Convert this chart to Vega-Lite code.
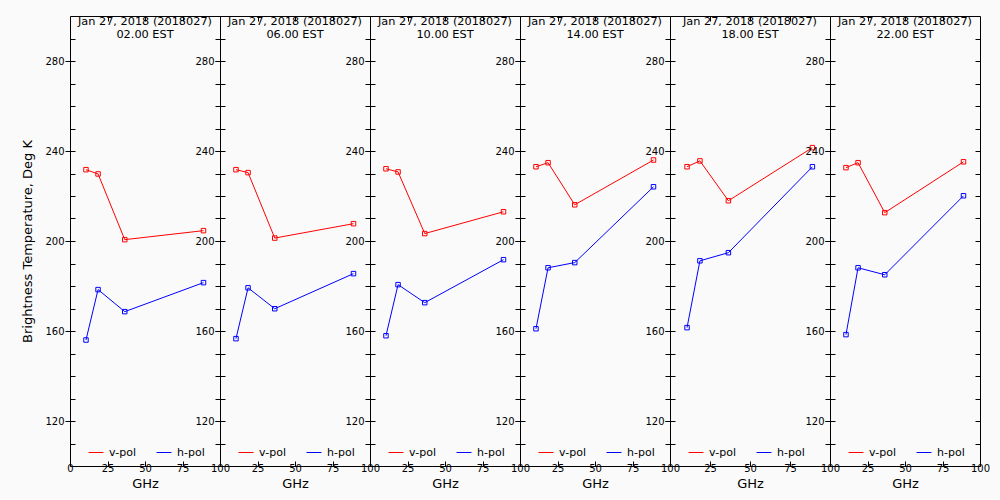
{
  "$schema": "https://vega.github.io/schema/vega-lite/v6.json",
  "background": "#fafafa",
  "padding": {"left": 21, "top": 15, "right": 11, "bottom": 8},
  "data": {"values": [
    {"time": "02.00", "pol": "v-pol", "ghz": 10.65, "tb": 231.7},
    {"time": "02.00", "pol": "v-pol", "ghz": 18.7, "tb": 229.8},
    {"time": "02.00", "pol": "v-pol", "ghz": 36.5, "tb": 200.6},
    {"time": "02.00", "pol": "v-pol", "ghz": 89.0, "tb": 204.6},
    {"time": "02.00", "pol": "h-pol", "ghz": 10.65, "tb": 156.0},
    {"time": "02.00", "pol": "h-pol", "ghz": 18.7, "tb": 178.4},
    {"time": "02.00", "pol": "h-pol", "ghz": 36.5, "tb": 168.6},
    {"time": "02.00", "pol": "h-pol", "ghz": 89.0, "tb": 181.5},
    {"time": "06.00", "pol": "v-pol", "ghz": 10.65, "tb": 231.7},
    {"time": "06.00", "pol": "v-pol", "ghz": 18.7, "tb": 230.4},
    {"time": "06.00", "pol": "v-pol", "ghz": 36.5, "tb": 201.3},
    {"time": "06.00", "pol": "v-pol", "ghz": 89.0, "tb": 207.7},
    {"time": "06.00", "pol": "h-pol", "ghz": 10.65, "tb": 156.6},
    {"time": "06.00", "pol": "h-pol", "ghz": 18.7, "tb": 179.2},
    {"time": "06.00", "pol": "h-pol", "ghz": 36.5, "tb": 169.9},
    {"time": "06.00", "pol": "h-pol", "ghz": 89.0, "tb": 185.5},
    {"time": "10.00", "pol": "v-pol", "ghz": 10.65, "tb": 232.1},
    {"time": "10.00", "pol": "v-pol", "ghz": 18.7, "tb": 230.7},
    {"time": "10.00", "pol": "v-pol", "ghz": 36.5, "tb": 203.3},
    {"time": "10.00", "pol": "v-pol", "ghz": 89.0, "tb": 213.0},
    {"time": "10.00", "pol": "h-pol", "ghz": 10.65, "tb": 157.9},
    {"time": "10.00", "pol": "h-pol", "ghz": 18.7, "tb": 180.6},
    {"time": "10.00", "pol": "h-pol", "ghz": 36.5, "tb": 172.6},
    {"time": "10.00", "pol": "h-pol", "ghz": 89.0, "tb": 191.7},
    {"time": "14.00", "pol": "v-pol", "ghz": 10.65, "tb": 233.0},
    {"time": "14.00", "pol": "v-pol", "ghz": 18.7, "tb": 234.8},
    {"time": "14.00", "pol": "v-pol", "ghz": 36.5, "tb": 216.1},
    {"time": "14.00", "pol": "v-pol", "ghz": 89.0, "tb": 236.0},
    {"time": "14.00", "pol": "h-pol", "ghz": 10.65, "tb": 161.0},
    {"time": "14.00", "pol": "h-pol", "ghz": 18.7, "tb": 188.1},
    {"time": "14.00", "pol": "h-pol", "ghz": 36.5, "tb": 190.4},
    {"time": "14.00", "pol": "h-pol", "ghz": 89.0, "tb": 224.1},
    {"time": "18.00", "pol": "v-pol", "ghz": 10.65, "tb": 233.0},
    {"time": "18.00", "pol": "v-pol", "ghz": 18.7, "tb": 235.6},
    {"time": "18.00", "pol": "v-pol", "ghz": 36.5, "tb": 217.9},
    {"time": "18.00", "pol": "v-pol", "ghz": 89.0, "tb": 241.5},
    {"time": "18.00", "pol": "h-pol", "ghz": 10.65, "tb": 161.5},
    {"time": "18.00", "pol": "h-pol", "ghz": 18.7, "tb": 191.2},
    {"time": "18.00", "pol": "h-pol", "ghz": 36.5, "tb": 194.8},
    {"time": "18.00", "pol": "h-pol", "ghz": 89.0, "tb": 233.0},
    {"time": "22.00", "pol": "v-pol", "ghz": 10.65, "tb": 232.6},
    {"time": "22.00", "pol": "v-pol", "ghz": 18.7, "tb": 234.8},
    {"time": "22.00", "pol": "v-pol", "ghz": 36.5, "tb": 212.6},
    {"time": "22.00", "pol": "v-pol", "ghz": 89.0, "tb": 235.2},
    {"time": "22.00", "pol": "h-pol", "ghz": 10.65, "tb": 158.4},
    {"time": "22.00", "pol": "h-pol", "ghz": 18.7, "tb": 188.1},
    {"time": "22.00", "pol": "h-pol", "ghz": 36.5, "tb": 185.0},
    {"time": "22.00", "pol": "h-pol", "ghz": 89.0, "tb": 220.1}
  ]},
  "spacing": 0,
  "bounds": "flush",
  "resolve": {"scale": {"color": "independent"}, "legend": {"color": "independent"}},
  "hconcat": [
    {
      "width": 150, "height": 450,
      "title": {"text": ["Jan 27, 2018 (2018027)", "02.00 EST"]},
      "transform": [{"filter": {"field": "time", "equal": "02.00"}}],
      "layer": [
        {"mark": {"type": "line", "strokeWidth": 1},
         "encoding": {
           "x": {"field": "ghz", "type": "quantitative", "scale": {"domain": [0, 100], "nice": false}, "axis": {"orient": "bottom", "values": [0, 25, 50, 75, 100], "tickSize": -5, "labelPadding": 2, "title": "GHz", "titlePadding": 4, "labelFlush": false, "labelOverlap": false, "labelBound": false}},
           "y": {"field": "tb", "type": "quantitative", "scale": {"domain": [100, 300], "nice": false, "zero": false}, "axis": {"orient": "left", "values": [120, 160, 200, 240, 280], "tickSize": 5, "labelPadding": 1, "title": "Brightness Temperature, Deg K", "titlePadding": 10}},
           "color": {"field": "pol", "type": "nominal", "scale": {"domain": ["v-pol", "h-pol"], "range": ["#ff0000", "#0000ff"]}, "legend": {"orient": "none", "legendX": 18, "legendY": 428.5, "direction": "horizontal", "title": null, "symbolType": "stroke", "symbolSize": 225, "symbolStrokeWidth": 1, "labelOffset": 5, "columnPadding": 18, "padding": 0}}
         }},
        {"mark": {"type": "point", "shape": "square", "filled": false, "size": 20, "strokeWidth": 1, "opacity": 1},
         "encoding": {
           "x": {"field": "ghz", "type": "quantitative", "scale": {"domain": [0, 100], "nice": false}, "axis": null},
           "y": {"field": "tb", "type": "quantitative", "scale": {"domain": [100, 300], "nice": false, "zero": false}, "axis": {"orient": "left", "values": [110, 120, 130, 140, 150, 160, 170, 180, 190, 200, 210, 220, 230, 240, 250, 260, 270, 280, 290], "tickSize": -5, "labels": false, "title": null}},
           "color": {"field": "pol", "type": "nominal", "scale": {"domain": ["v-pol", "h-pol"], "range": ["#ff0000", "#0000ff"]}, "legend": null}
         }},
        {"mark": {"type": "point", "opacity": 0},
         "encoding": {
           "x": {"field": "ghz", "type": "quantitative", "scale": {"domain": [0, 100], "nice": false}, "axis": {"orient": "top", "values": [25, 50, 75], "tickSize": -5, "labels": false, "title": null}},
           "y": {"field": "tb", "type": "quantitative", "scale": {"domain": [100, 300], "nice": false, "zero": false}, "axis": {"orient": "right", "values": [110, 120, 130, 140, 150, 160, 170, 180, 190, 200, 210, 220, 230, 240, 250, 260, 270, 280, 290], "tickSize": -5, "labels": false, "title": null}}
         }}
      ],
      "resolve": {"axis": {"x": "independent", "y": "independent"}}
    },
    {
      "width": 150, "height": 450,
      "title": {"text": ["Jan 27, 2018 (2018027)", "06.00 EST"]},
      "transform": [{"filter": {"field": "time", "equal": "06.00"}}],
      "layer": [
        {"mark": {"type": "line", "strokeWidth": 1},
         "encoding": {
           "x": {"field": "ghz", "type": "quantitative", "scale": {"domain": [0, 100], "nice": false}, "axis": {"orient": "bottom", "values": [0, 25, 50, 75, 100], "tickSize": -5, "labelPadding": 2, "title": "GHz", "titlePadding": 4, "labelFlush": false, "labelOverlap": false, "labelBound": false, "labelExpr": "datum.value == 0 ? '' : datum.label"}},
           "y": {"field": "tb", "type": "quantitative", "scale": {"domain": [100, 300], "nice": false, "zero": false}, "axis": {"orient": "left", "values": [120, 160, 200, 240, 280], "tickSize": 5, "labelPadding": 1, "title": null}},
           "color": {"field": "pol", "type": "nominal", "scale": {"domain": ["v-pol", "h-pol"], "range": ["#ff0000", "#0000ff"]}, "legend": {"orient": "none", "legendX": 18, "legendY": 428.5, "direction": "horizontal", "title": null, "symbolType": "stroke", "symbolSize": 225, "symbolStrokeWidth": 1, "labelOffset": 5, "columnPadding": 18, "padding": 0}}
         }},
        {"mark": {"type": "point", "shape": "square", "filled": false, "size": 20, "strokeWidth": 1, "opacity": 1},
         "encoding": {
           "x": {"field": "ghz", "type": "quantitative", "scale": {"domain": [0, 100], "nice": false}, "axis": null},
           "y": {"field": "tb", "type": "quantitative", "scale": {"domain": [100, 300], "nice": false, "zero": false}, "axis": {"orient": "left", "values": [110, 120, 130, 140, 150, 160, 170, 180, 190, 200, 210, 220, 230, 240, 250, 260, 270, 280, 290], "tickSize": -5, "labels": false, "title": null}},
           "color": {"field": "pol", "type": "nominal", "scale": {"domain": ["v-pol", "h-pol"], "range": ["#ff0000", "#0000ff"]}, "legend": null}
         }},
        {"mark": {"type": "point", "opacity": 0},
         "encoding": {
           "x": {"field": "ghz", "type": "quantitative", "scale": {"domain": [0, 100], "nice": false}, "axis": {"orient": "top", "values": [25, 50, 75], "tickSize": -5, "labels": false, "title": null}},
           "y": {"field": "tb", "type": "quantitative", "scale": {"domain": [100, 300], "nice": false, "zero": false}, "axis": {"orient": "right", "values": [110, 120, 130, 140, 150, 160, 170, 180, 190, 200, 210, 220, 230, 240, 250, 260, 270, 280, 290], "tickSize": -5, "labels": false, "title": null}}
         }}
      ],
      "resolve": {"axis": {"x": "independent", "y": "independent"}}
    },
    {
      "width": 150, "height": 450,
      "title": {"text": ["Jan 27, 2018 (2018027)", "10.00 EST"]},
      "transform": [{"filter": {"field": "time", "equal": "10.00"}}],
      "layer": [
        {"mark": {"type": "line", "strokeWidth": 1},
         "encoding": {
           "x": {"field": "ghz", "type": "quantitative", "scale": {"domain": [0, 100], "nice": false}, "axis": {"orient": "bottom", "values": [0, 25, 50, 75, 100], "tickSize": -5, "labelPadding": 2, "title": "GHz", "titlePadding": 4, "labelFlush": false, "labelOverlap": false, "labelBound": false, "labelExpr": "datum.value == 0 ? '' : datum.label"}},
           "y": {"field": "tb", "type": "quantitative", "scale": {"domain": [100, 300], "nice": false, "zero": false}, "axis": {"orient": "left", "values": [120, 160, 200, 240, 280], "tickSize": 5, "labelPadding": 1, "title": null}},
           "color": {"field": "pol", "type": "nominal", "scale": {"domain": ["v-pol", "h-pol"], "range": ["#ff0000", "#0000ff"]}, "legend": {"orient": "none", "legendX": 18, "legendY": 428.5, "direction": "horizontal", "title": null, "symbolType": "stroke", "symbolSize": 225, "symbolStrokeWidth": 1, "labelOffset": 5, "columnPadding": 18, "padding": 0}}
         }},
        {"mark": {"type": "point", "shape": "square", "filled": false, "size": 20, "strokeWidth": 1, "opacity": 1},
         "encoding": {
           "x": {"field": "ghz", "type": "quantitative", "scale": {"domain": [0, 100], "nice": false}, "axis": null},
           "y": {"field": "tb", "type": "quantitative", "scale": {"domain": [100, 300], "nice": false, "zero": false}, "axis": {"orient": "left", "values": [110, 120, 130, 140, 150, 160, 170, 180, 190, 200, 210, 220, 230, 240, 250, 260, 270, 280, 290], "tickSize": -5, "labels": false, "title": null}},
           "color": {"field": "pol", "type": "nominal", "scale": {"domain": ["v-pol", "h-pol"], "range": ["#ff0000", "#0000ff"]}, "legend": null}
         }},
        {"mark": {"type": "point", "opacity": 0},
         "encoding": {
           "x": {"field": "ghz", "type": "quantitative", "scale": {"domain": [0, 100], "nice": false}, "axis": {"orient": "top", "values": [25, 50, 75], "tickSize": -5, "labels": false, "title": null}},
           "y": {"field": "tb", "type": "quantitative", "scale": {"domain": [100, 300], "nice": false, "zero": false}, "axis": {"orient": "right", "values": [110, 120, 130, 140, 150, 160, 170, 180, 190, 200, 210, 220, 230, 240, 250, 260, 270, 280, 290], "tickSize": -5, "labels": false, "title": null}}
         }}
      ],
      "resolve": {"axis": {"x": "independent", "y": "independent"}}
    },
    {
      "width": 150, "height": 450,
      "title": {"text": ["Jan 27, 2018 (2018027)", "14.00 EST"]},
      "transform": [{"filter": {"field": "time", "equal": "14.00"}}],
      "layer": [
        {"mark": {"type": "line", "strokeWidth": 1},
         "encoding": {
           "x": {"field": "ghz", "type": "quantitative", "scale": {"domain": [0, 100], "nice": false}, "axis": {"orient": "bottom", "values": [0, 25, 50, 75, 100], "tickSize": -5, "labelPadding": 2, "title": "GHz", "titlePadding": 4, "labelFlush": false, "labelOverlap": false, "labelBound": false, "labelExpr": "datum.value == 0 ? '' : datum.label"}},
           "y": {"field": "tb", "type": "quantitative", "scale": {"domain": [100, 300], "nice": false, "zero": false}, "axis": {"orient": "left", "values": [120, 160, 200, 240, 280], "tickSize": 5, "labelPadding": 1, "title": null}},
           "color": {"field": "pol", "type": "nominal", "scale": {"domain": ["v-pol", "h-pol"], "range": ["#ff0000", "#0000ff"]}, "legend": {"orient": "none", "legendX": 18, "legendY": 428.5, "direction": "horizontal", "title": null, "symbolType": "stroke", "symbolSize": 225, "symbolStrokeWidth": 1, "labelOffset": 5, "columnPadding": 18, "padding": 0}}
         }},
        {"mark": {"type": "point", "shape": "square", "filled": false, "size": 20, "strokeWidth": 1, "opacity": 1},
         "encoding": {
           "x": {"field": "ghz", "type": "quantitative", "scale": {"domain": [0, 100], "nice": false}, "axis": null},
           "y": {"field": "tb", "type": "quantitative", "scale": {"domain": [100, 300], "nice": false, "zero": false}, "axis": {"orient": "left", "values": [110, 120, 130, 140, 150, 160, 170, 180, 190, 200, 210, 220, 230, 240, 250, 260, 270, 280, 290], "tickSize": -5, "labels": false, "title": null}},
           "color": {"field": "pol", "type": "nominal", "scale": {"domain": ["v-pol", "h-pol"], "range": ["#ff0000", "#0000ff"]}, "legend": null}
         }},
        {"mark": {"type": "point", "opacity": 0},
         "encoding": {
           "x": {"field": "ghz", "type": "quantitative", "scale": {"domain": [0, 100], "nice": false}, "axis": {"orient": "top", "values": [25, 50, 75], "tickSize": -5, "labels": false, "title": null}},
           "y": {"field": "tb", "type": "quantitative", "scale": {"domain": [100, 300], "nice": false, "zero": false}, "axis": {"orient": "right", "values": [110, 120, 130, 140, 150, 160, 170, 180, 190, 200, 210, 220, 230, 240, 250, 260, 270, 280, 290], "tickSize": -5, "labels": false, "title": null}}
         }}
      ],
      "resolve": {"axis": {"x": "independent", "y": "independent"}}
    },
    {
      "width": 160, "height": 450,
      "title": {"text": ["Jan 27, 2018 (2018027)", "18.00 EST"]},
      "transform": [{"filter": {"field": "time", "equal": "18.00"}}],
      "layer": [
        {"mark": {"type": "line", "strokeWidth": 1},
         "encoding": {
           "x": {"field": "ghz", "type": "quantitative", "scale": {"domain": [0, 100], "nice": false}, "axis": {"orient": "bottom", "values": [0, 25, 50, 75, 100], "tickSize": -5, "labelPadding": 2, "title": "GHz", "titlePadding": 4, "labelFlush": false, "labelOverlap": false, "labelBound": false, "labelExpr": "datum.value == 0 ? '' : datum.label"}},
           "y": {"field": "tb", "type": "quantitative", "scale": {"domain": [100, 300], "nice": false, "zero": false}, "axis": {"orient": "left", "values": [120, 160, 200, 240, 280], "tickSize": 5, "labelPadding": 1, "title": null}},
           "color": {"field": "pol", "type": "nominal", "scale": {"domain": ["v-pol", "h-pol"], "range": ["#ff0000", "#0000ff"]}, "legend": {"orient": "none", "legendX": 18, "legendY": 428.5, "direction": "horizontal", "title": null, "symbolType": "stroke", "symbolSize": 225, "symbolStrokeWidth": 1, "labelOffset": 5, "columnPadding": 18, "padding": 0}}
         }},
        {"mark": {"type": "point", "shape": "square", "filled": false, "size": 20, "strokeWidth": 1, "opacity": 1},
         "encoding": {
           "x": {"field": "ghz", "type": "quantitative", "scale": {"domain": [0, 100], "nice": false}, "axis": null},
           "y": {"field": "tb", "type": "quantitative", "scale": {"domain": [100, 300], "nice": false, "zero": false}, "axis": {"orient": "left", "values": [110, 120, 130, 140, 150, 160, 170, 180, 190, 200, 210, 220, 230, 240, 250, 260, 270, 280, 290], "tickSize": -5, "labels": false, "title": null}},
           "color": {"field": "pol", "type": "nominal", "scale": {"domain": ["v-pol", "h-pol"], "range": ["#ff0000", "#0000ff"]}, "legend": null}
         }},
        {"mark": {"type": "point", "opacity": 0},
         "encoding": {
           "x": {"field": "ghz", "type": "quantitative", "scale": {"domain": [0, 100], "nice": false}, "axis": {"orient": "top", "values": [25, 50, 75], "tickSize": -5, "labels": false, "title": null}},
           "y": {"field": "tb", "type": "quantitative", "scale": {"domain": [100, 300], "nice": false, "zero": false}, "axis": {"orient": "right", "values": [110, 120, 130, 140, 150, 160, 170, 180, 190, 200, 210, 220, 230, 240, 250, 260, 270, 280, 290], "tickSize": -5, "labels": false, "title": null}}
         }}
      ],
      "resolve": {"axis": {"x": "independent", "y": "independent"}}
    },
    {
      "width": 150, "height": 450,
      "title": {"text": ["Jan 27, 2018 (2018027)", "22.00 EST"]},
      "transform": [{"filter": {"field": "time", "equal": "22.00"}}],
      "layer": [
        {"mark": {"type": "line", "strokeWidth": 1},
         "encoding": {
           "x": {"field": "ghz", "type": "quantitative", "scale": {"domain": [0, 100], "nice": false}, "axis": {"orient": "bottom", "values": [0, 25, 50, 75, 100], "tickSize": -5, "labelPadding": 2, "title": "GHz", "titlePadding": 4, "labelFlush": false, "labelOverlap": false, "labelBound": false, "labelExpr": "datum.value == 0 ? '' : datum.label"}},
           "y": {"field": "tb", "type": "quantitative", "scale": {"domain": [100, 300], "nice": false, "zero": false}, "axis": {"orient": "left", "values": [120, 160, 200, 240, 280], "tickSize": 5, "labelPadding": 1, "title": null}},
           "color": {"field": "pol", "type": "nominal", "scale": {"domain": ["v-pol", "h-pol"], "range": ["#ff0000", "#0000ff"]}, "legend": {"orient": "none", "legendX": 18, "legendY": 428.5, "direction": "horizontal", "title": null, "symbolType": "stroke", "symbolSize": 225, "symbolStrokeWidth": 1, "labelOffset": 5, "columnPadding": 18, "padding": 0}}
         }},
        {"mark": {"type": "point", "shape": "square", "filled": false, "size": 20, "strokeWidth": 1, "opacity": 1},
         "encoding": {
           "x": {"field": "ghz", "type": "quantitative", "scale": {"domain": [0, 100], "nice": false}, "axis": null},
           "y": {"field": "tb", "type": "quantitative", "scale": {"domain": [100, 300], "nice": false, "zero": false}, "axis": {"orient": "left", "values": [110, 120, 130, 140, 150, 160, 170, 180, 190, 200, 210, 220, 230, 240, 250, 260, 270, 280, 290], "tickSize": -5, "labels": false, "title": null}},
           "color": {"field": "pol", "type": "nominal", "scale": {"domain": ["v-pol", "h-pol"], "range": ["#ff0000", "#0000ff"]}, "legend": null}
         }},
        {"mark": {"type": "point", "opacity": 0},
         "encoding": {
           "x": {"field": "ghz", "type": "quantitative", "scale": {"domain": [0, 100], "nice": false}, "axis": {"orient": "top", "values": [25, 50, 75], "tickSize": -5, "labels": false, "title": null}},
           "y": {"field": "tb", "type": "quantitative", "scale": {"domain": [100, 300], "nice": false, "zero": false}, "axis": {"orient": "right", "values": [110, 120, 130, 140, 150, 160, 170, 180, 190, 200, 210, 220, 230, 240, 250, 260, 270, 280, 290], "tickSize": -5, "labels": false, "title": null}}
         }}
      ],
      "resolve": {"axis": {"x": "independent", "y": "independent"}}
    }
  ],
  "config": {
    "font": "DejaVu Sans",
    "view": {"stroke": "#000000", "strokeWidth": 1},
    "axis": {"domain": false, "grid": false, "labelFont": "DejaVu Sans", "labelFontSize": 10, "labelColor": "#000000", "tickColor": "#000000", "tickWidth": 1, "titleFont": "DejaVu Sans", "titleFontSize": 13, "titleFontWeight": "normal", "titleColor": "#000000"},
    "legend": {"labelFont": "DejaVu Sans", "labelFontSize": 11, "labelColor": "#000000"},
    "title": {"font": "DejaVu Sans", "fontSize": 11.3, "fontWeight": "normal", "color": "#000000", "anchor": "middle", "frame": "group", "baseline": "bottom", "offset": -25, "lineHeight": 13}
  }
}
